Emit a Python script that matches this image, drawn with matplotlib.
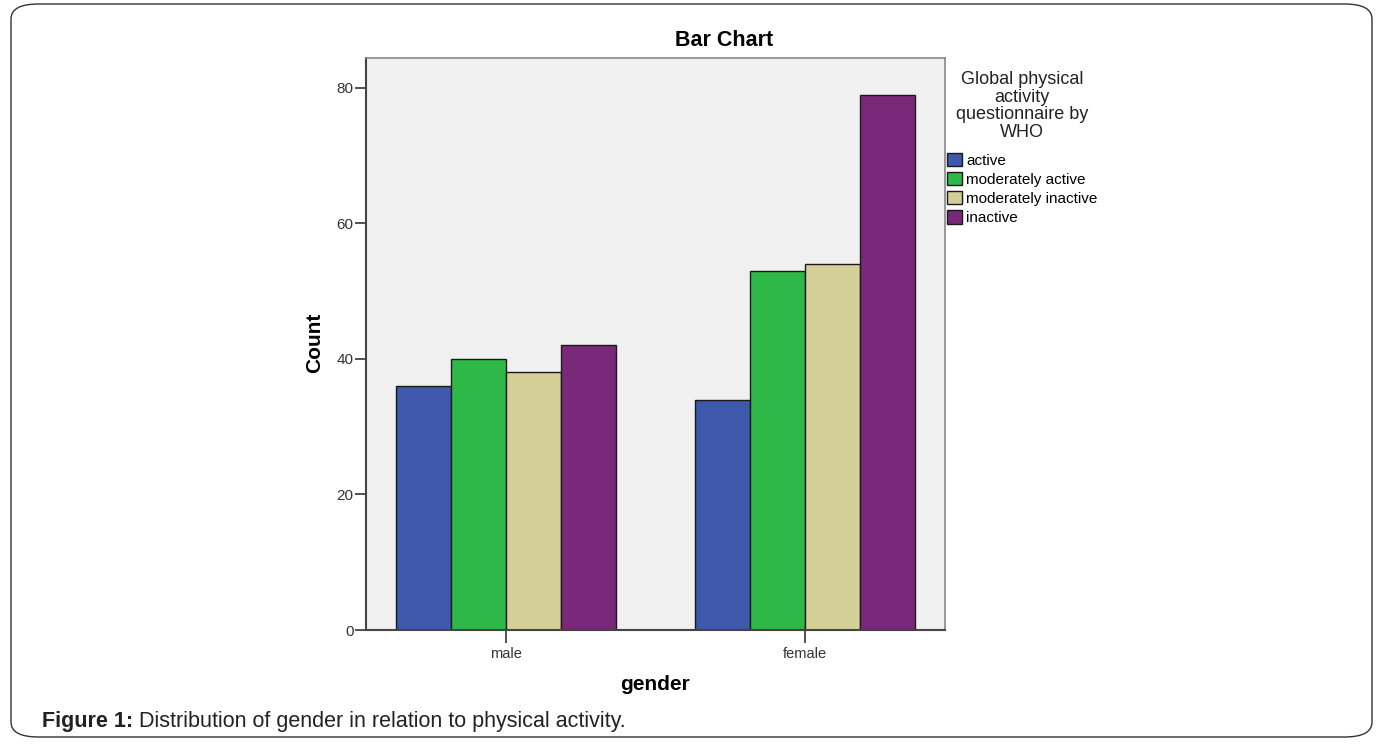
import matplotlib
matplotlib.use("Agg")
import matplotlib.pyplot as plt
from matplotlib.patches import FancyBboxPatch
import numpy as np

plt.rcParams['font.family'] = ['Liberation Sans', 'DejaVu Sans']

# data
genders = ['male', 'female']
levels = ['active', 'moderately active', 'moderately inactive', 'inactive']
active = [36, 34]
moderately_active = [40, 53]
moderately_inactive = [38, 54]
inactive = [42, 79]
yticks = [0, 20, 40, 60, 80]

series = [active, moderately_active, moderately_inactive, inactive]
colors = ['#3e58ac', '#2eb848', '#d4cf98', '#7a287a']

W, H = 1380, 744
fig = plt.figure(figsize=(W / 100, H / 100), dpi=100)

# rounded frame around the whole figure
frame = FancyBboxPatch((11 / W, 7 / H), (1372 - 11) / W, (740 - 7) / H,
                       boxstyle="round,pad=0,rounding_size=0.02",
                       transform=fig.transFigure, fill=False,
                       edgecolor='#333333', linewidth=1.0)
fig.add_artist(frame)

ax = fig.add_axes([366 / W, 1 - 630 / H, (945 - 366) / W, (630 - 58) / H])
ax.set_facecolor('#f0f0f0')

x = np.arange(len(genders))
bw = 0.184
for i, (vals, col, lab) in enumerate(zip(series, colors, levels)):
    ax.bar(x + (i - 1.5) * bw, vals, width=bw, color=col,
           edgecolor='#1a1a1a', linewidth=1.0, label=lab)

ax.set_xlim(-0.468, 1.468)
ax.set_ylim(0, 84.4)
ax.set_yticks(yticks)
ax.set_xticks(x)
ax.set_xticklabels(genders)
ax.tick_params(axis='y', length=8, width=1.2, color='#333333',
               labelsize=11, labelcolor='#333333', pad=1)
ax.tick_params(axis='x', length=9, width=1.2, color='#333333',
               labelsize=10.5, labelcolor='#333333', pad=3)

for side in ['top', 'right']:
    ax.spines[side].set_color('#888888')
    ax.spines[side].set_linewidth(1.2)
for side in ['left', 'bottom']:
    ax.spines[side].set_color('#444444')
    ax.spines[side].set_linewidth(1.5)

fig.text(724 / W, 1 - 40 / H, 'Bar Chart', fontsize=15.5, fontweight='bold',
         ha='center', va='center')
fig.text(655 / W, 1 - 685 / H, 'gender', fontsize=15, fontweight='bold',
         ha='center', va='center')
fig.text(315 / W, 1 - 343 / H, 'Count', fontsize=15, fontweight='bold',
         rotation=90, ha='center', va='center')

# legend title and entries
fig.text(1022 / W, 1 - 106 / H,
         'Global physical\nactivity\nquestionnaire by\nWHO',
         fontsize=13, ha='center', va='center', linespacing=1.07,
         color='#222222')
handles, labels = ax.get_legend_handles_labels()
fig.legend(handles, labels, loc='upper left',
           bbox_to_anchor=(947 / W, 1 - 153 / H), frameon=False,
           fontsize=11, handlelength=0.95, handleheight=0.95,
           handletextpad=0.3, labelspacing=0.28, borderpad=0,
           borderaxespad=0)

# caption
cap = fig.text(42 / W, 1 - 722 / H, 'Figure 1:', fontsize=15.5,
               fontweight='bold', ha='left', va='center', color='#222222')
ax.annotate(' Distribution of gender in relation to physical activity.',
            xy=(1, 0.5), xycoords=cap, fontsize=15.5, ha='left', va='center',
            color='#222222', annotation_clip=False)

fig.savefig('out.png', dpi=100)
